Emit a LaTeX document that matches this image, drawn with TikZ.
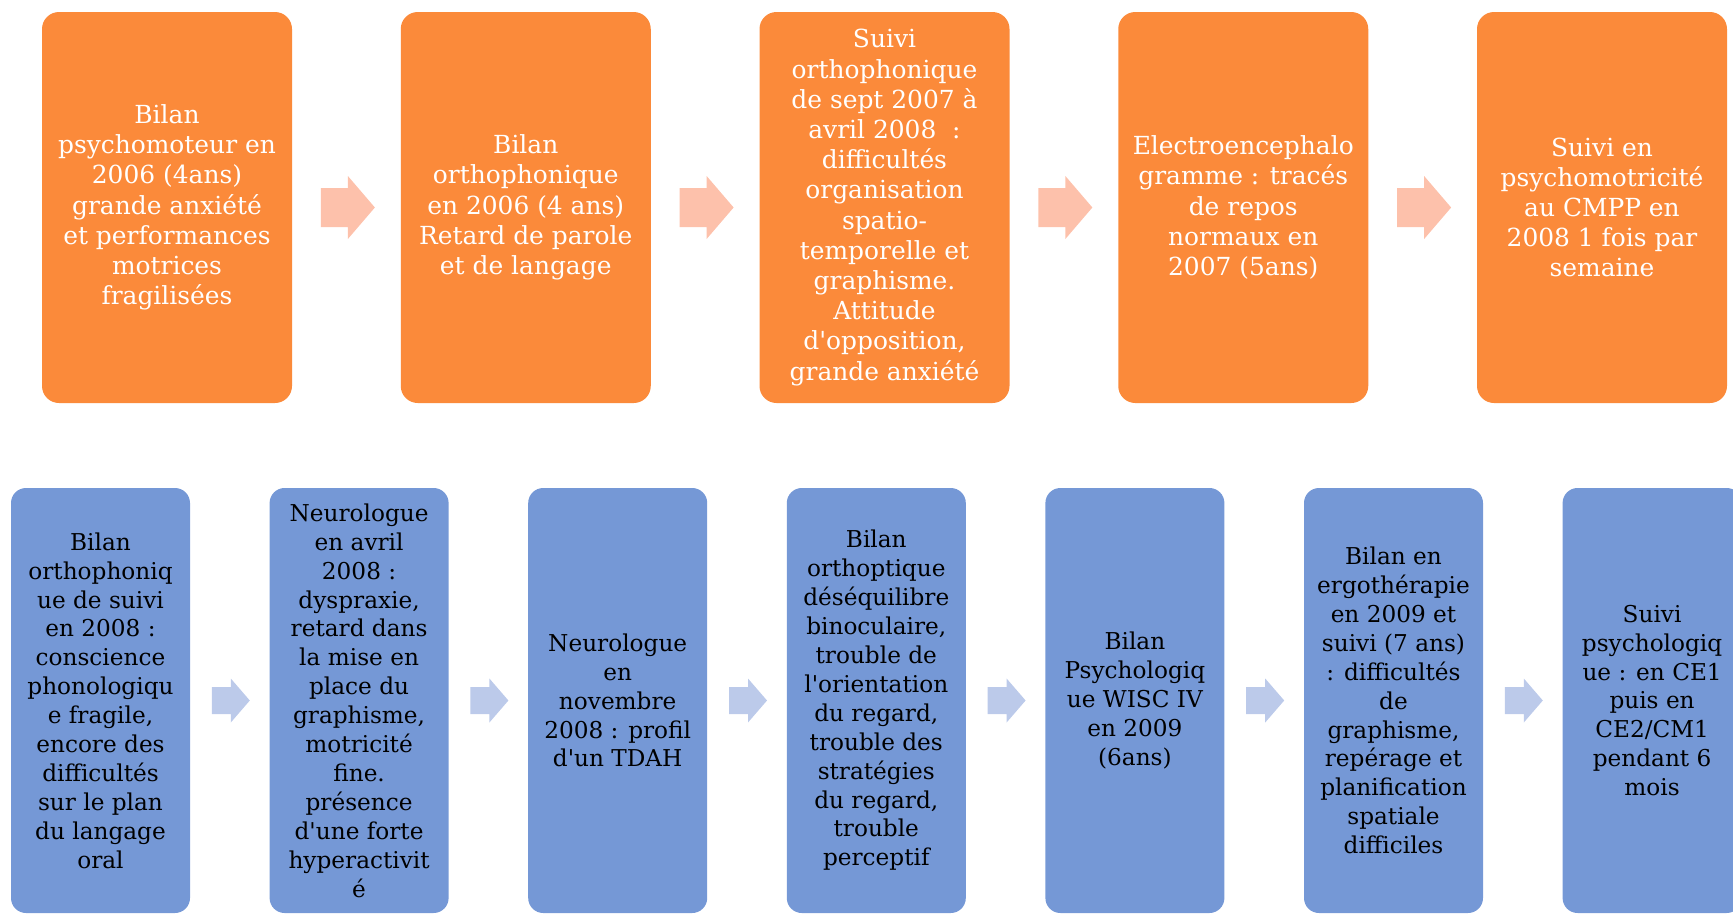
\documentclass[tikz,border=0pt]{standalone}
\usepackage{fontspec}
\setmainfont{DejaVu Serif}[Ligatures=TeXOff]
\usetikzlibrary{calc}
\definecolor{orangebox}{HTML}{FB8A3A}
\definecolor{orangearrow}{HTML}{FDC1AB}
\definecolor{bluebox}{HTML}{7598D6}
\definecolor{bluearrow}{HTML}{BCCAEA}
\tikzset{
  topbox/.style={fill=orangebox, rounded corners=17pt, minimum width=250pt, minimum height=391pt,
    inner sep=0pt, align=center, text=white, font=\fontsize{24.9}{30.2}\selectfont},
  botbox/.style={fill=bluebox, rounded corners=15pt, minimum width=179pt, minimum height=425pt,
    inner sep=0pt, align=center, text=black, font=\fontsize{23.2}{28.9}\selectfont},
  toparrow/.pic={\fill[orangearrow] (-27,-19.5) -- (0,-19.5) -- (0,-31.5) -- (27,0) -- (0,31.5) -- (0,19.5) -- (-27,19.5) -- cycle;},
  botarrow/.pic={\fill[bluearrow] (-19,-13.5) -- (0,-13.5) -- (0,-22) -- (19,0) -- (0,22) -- (0,13.5) -- (-19,13.5) -- cycle;}
}
\begin{document}
\begin{tikzpicture}[x=1pt,y=-1pt]
\useasboundingbox (0,0) rectangle (1733,916);
% top row
\node[topbox] (t1) at (167,207.5) {Bilan\\psychomoteur en\\2006 (4ans)\\grande anxiété\\et performances\\motrices\\fragilisées};
\node[topbox] (t2) at (525.75,207.5) {Bilan\\orthophonique\\en 2006 (4 ans)\\Retard de parole\\et de langage};
\node[topbox] (t3) at (884.5,207.5) {Suivi\\orthophonique\\de sept 2007 à\\avril 2008 \ :\\difficultés\\organisation\\spatio-\\temporelle et\\graphisme.\\Attitude\\d'opposition,\\grande anxiété};
\node[topbox] (t4) at (1243.25,207.5) {Electroencephalo\\gramme : tracés\\de repos\\normaux en\\2007 (5ans)};
\node[topbox] (t5) at (1602,207.5) {Suivi en\\psychomotricité\\au CMPP en\\2008 1 fois par\\semaine};
\path ($(t1.east)!0.5!(t2.west)+(1.5,0)$) pic {toparrow};
\path ($(t2.east)!0.5!(t3.west)+(1.5,0)$) pic {toparrow};
\path ($(t3.east)!0.5!(t4.west)+(1.5,0)$) pic {toparrow};
\path ($(t4.east)!0.5!(t5.west)+(1.5,0)$) pic {toparrow};
% bottom row
\node[botbox] (b1) at (100.5,700.5) {Bilan\\orthophoniq\\ue de suivi\\en 2008 :\\conscience\\phonologiqu\\e fragile,\\encore des\\difficultés\\sur le plan\\du langage\\oral};
\node[botbox] (b2) at (359.1,700.5) {Neurologue\\en avril\\2008 :\\dyspraxie,\\retard dans\\la mise en\\place du\\graphisme,\\motricité\\fine.\\présence\\d'une forte\\hyperactivit\\é};
\node[botbox] (b3) at (617.7,700.5) {Neurologue\\en\\novembre\\2008 : profil\\d'un TDAH};
\node[botbox] (b4) at (876.3,700.5) {Bilan\\orthoptique\\déséquilibre\\binoculaire,\\trouble de\\l'orientation\\du regard,\\trouble des\\stratégies\\du regard,\\trouble\\perceptif};
\node[botbox] (b5) at (1134.9,700.5) {Bilan\\Psychologiq\\ue WISC IV\\en 2009\\(6ans)};
\node[botbox] (b6) at (1393.5,700.5) {Bilan en\\ergothérapie\\en 2009 et\\suivi (7 ans)\\: difficultés\\de\\graphisme,\\repérage et\\planification\\spatiale\\difficiles};
\node[botbox] (b7) at (1652.1,700.5) {Suivi\\psychologiq\\ue : en CE1\\puis en\\CE2/CM1\\pendant 6\\mois};
\path ($(b1.east)!0.5!(b2.west)+(1,0)$) pic {botarrow};
\path ($(b2.east)!0.5!(b3.west)+(1,0)$) pic {botarrow};
\path ($(b3.east)!0.5!(b4.west)+(1,0)$) pic {botarrow};
\path ($(b4.east)!0.5!(b5.west)+(1,0)$) pic {botarrow};
\path ($(b5.east)!0.5!(b6.west)+(1,0)$) pic {botarrow};
\path ($(b6.east)!0.5!(b7.west)+(1,0)$) pic {botarrow};
\end{tikzpicture}
\end{document}
